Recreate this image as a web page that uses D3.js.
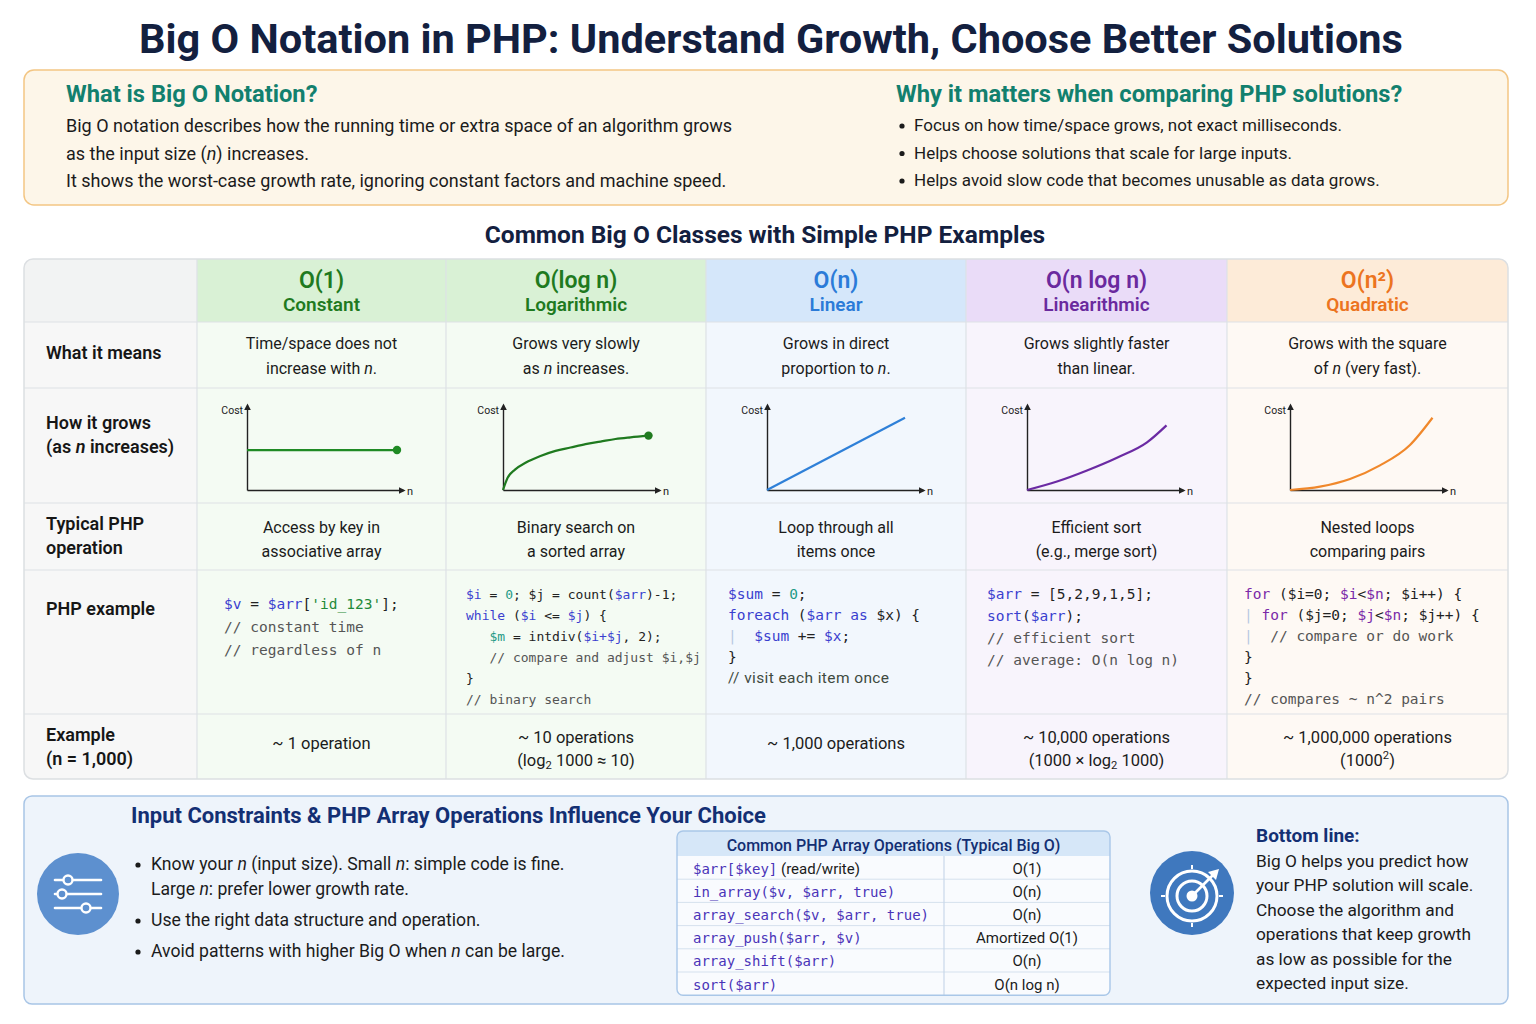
<!DOCTYPE html>
<html>
<head>
<meta charset="utf-8">
<script src="https://cdn.jsdelivr.net/npm/d3@7"></script>
<style>
  body { margin: 0; background: #fff; }
  svg { display: block; }
  text { font-family: Roboto, "Noto Sans", sans-serif; }
  .mono { font-family: "DejaVu Sans Mono", "Liberation Mono", monospace; white-space: pre; }
  .sans { font-family: Roboto, "Noto Sans", sans-serif; }
</style>
</head>
<body>
<div id="chart"></div>
<script>
// ---- data ----
var titleText = "Big O Notation in PHP: Understand Growth, Choose Better Solutions";
var whatHead = "What is Big O Notation?";
var whatLines = [
  "Big O notation describes how the running time or extra space of an algorithm grows",
  "as the input size ({i:n}) increases.",
  "It shows the worst-case growth rate, ignoring constant factors and machine speed."
];
var whyHead = "Why it matters when comparing PHP solutions?";
var whyLines = [
  "Focus on how time/space grows, not exact milliseconds.",
  "Helps choose solutions that scale for large inputs.",
  "Helps avoid slow code that becomes unusable as data grows."
];
var tableTitle = "Common Big O Classes with Simple PHP Examples";

var classNames = ["O(1)", "O(log n)", "O(n)", "O(n log n)", "O(n²)"];
var classLabels = ["Constant", "Logarithmic", "Linear", "Linearithmic", "Quadratic"];
var rowLabels = [
  ["What it means"],
  ["How it grows", "(as {i:n} increases)"],
  ["Typical PHP", "operation"],
  ["PHP example"],
  ["Example", "(n = 1,000)"]
];
var meanings = [
  ["Time/space does not", "increase with {i:n}."],
  ["Grows very slowly", "as {i:n} increases."],
  ["Grows in direct", "proportion to {i:n}."],
  ["Grows slightly faster", "than linear."],
  ["Grows with the square", "of {i:n} (very fast)."]
];
var operations = [
  ["Access by key in", "associative array"],
  ["Binary search on", "a sorted array"],
  ["Loop through all", "items once"],
  ["Efficient sort", "(e.g., merge sort)"],
  ["Nested loops", "comparing pairs"]
];
var examples = [
  ["~ 1 operation"],
  ["~ 10 operations", "(log{sub:2} 1000 ≈ 10)"],
  ["~ 1,000 operations"],
  ["~ 10,000 operations", "(1000 × log{sub:2} 1000)"],
  ["~ 1,000,000 operations", "(1000{sup:2})"]
];

// growth curves (n and cost on a 0..100 scale)
var growthN = [
  [0, 100],
  [0, 3, 8, 15, 25, 35, 45, 55, 65, 75, 85, 97],
  [0, 92],
  [0, 20, 40, 60, 80, 93],
  [0, 20, 40, 60, 80, 95]
];
var growthCost = [
  [47, 47],
  [0, 14, 24, 32, 40, 46, 50, 54, 57, 60, 62, 64],
  [0, 85],
  [0, 10, 23, 38, 56, 76],
  [0, 4, 13, 29, 53, 85]
];
var growthDot = [true, true, false, false, false];

// code snippets: [text, token type]
var codeLines = [
  [
    [["$v", "v"], [" = ", "p"], ["$arr", "v"], ["[", "p"], ["'id_123'", "s"], ["];", "p"]],
    [["// constant time", "c"]],
    [["// regardless of n", "c"]]
  ],
  [
    [["$i", "v"], [" = ", "p"], ["0", "n"], ["; $j = count(", "p"], ["$arr", "v"], [")-1;", "p"]],
    [["while", "k"], [" (", "p"], ["$i", "v"], [" <= ", "p"], ["$j", "v"], [") {", "p"]],
    [["   ", "p"], ["$m", "n"], [" = intdiv(", "p"], ["$i+$j", "v"], [", 2);", "p"]],
    [["   // compare and adjust $i,$j", "c"]],
    [["}", "p"]],
    [["// binary search", "c"]]
  ],
  [
    [["$sum", "v"], [" = ", "p"], ["0", "n"], [";", "p"]],
    [["foreach", "k"], [" (", "p"], ["$arr", "v"], [" as ", "k"], ["$x", "p"], [") {", "p"]],
    [["|", "g"], ["  ", "p"], ["$sum", "v"], [" += ", "p"], ["$x", "v"], [";", "p"]],
    [["}", "p"]],
    [["// visit each item once", "cs"]]
  ],
  [
    [["$arr", "v"], [" = [5,2,9,1,5];", "p"]],
    [["sort", "k"], ["(", "p"], ["$arr", "v"], [");", "p"]],
    [["// efficient sort", "c"]],
    [["// average: O(n log n)", "c"]]
  ],
  [
    [["for", "q"], [" ($i=0; ", "p"], ["$i", "q"], ["<", "p"], ["$n", "q"], ["; $i++) {", "p"]],
    [["|", "g"], [" ", "p"], ["for", "q"], [" ($j=0; ", "p"], ["$j", "q"], ["<", "p"], ["$n", "q"], ["; $j++) {", "p"]],
    [["|", "g"], ["  // compare or do work", "c"]],
    [["}", "p"]],
    [["}", "p"]],
    [["// compares ~ n^2 pairs", "c"]]
  ]
];

var bottomHead = "Input Constraints & PHP Array Operations Influence Your Choice";
var bullets = [
  ["Know your {i:n} (input size). Small {i:n}: simple code is fine.", "Large {i:n}: prefer lower growth rate."],
  ["Use the right data structure and operation."],
  ["Avoid patterns with higher Big O when {i:n} can be large."]
];
var opsTitle = "Common PHP Array Operations (Typical Big O)";
var opsCode = ["$arr[$key]", "in_array($v, $arr, true)", "array_search($v, $arr, true)", "array_push($arr, $v)", "array_shift($arr)", "sort($arr)"];
var opsNote = [" (read/write)", "", "", "", "", ""];
var opsBigO = ["O(1)", "O(n)", "O(n)", "Amortized O(1)", "O(n)", "O(n log n)"];
var bottomLineHead = "Bottom line:";
var bottomLineText = [
  "Big O helps you predict how",
  "your PHP solution will scale.",
  "Choose the algorithm and",
  "operations that keep growth",
  "as low as possible for the",
  "expected input size."
];

// ---- styling ----
var headColors = ["#1f7a1f", "#1f7a1f", "#2b7bd8", "#6a2a9e", "#ec7420"];
var lineColors = ["#1f8a24", "#1f7a1f", "#2f80d8", "#6b2aa3", "#f0882b"];
var headFills = ["#f2f3f3", "#d9f1d5", "#d9f1d5", "#d5e7fa", "#eadcf8", "#fdebd8"];
var bodyFills = ["#f7f7f7", "#f4fbf3", "#f4fbf3", "#f2f7fd", "#f8f4fc", "#fef9f4"];
var tokenColors = { v: "#3a3fcf", s: "#1f8a3a", k: "#3a3fcf", n: "#1f9a86", c: "#555", cs: "#3f4a3f", p: "#222", g: "#b9c9e2", q: "#7a2aa8" };

var colEdges = [24, 197, 446, 706, 966, 1227, 1508];
var rowEdges = [259, 322, 388, 503, 570, 714, 779];
var chartX = [247, 503, 767, 1027, 1290];
var codeX = [224, 466, 728, 987, 1244];
var codeSize = [14.5, 13, 14.5, 14.5, 14.5];
var codeLH = [23, 21, 21, 22, 21];
var codeY = [604, 594, 594, 594, 594];

var W = 1536, H = 1024;
var svg = d3.select("#chart").append("svg").attr("width", W).attr("height", H);
var defs = svg.append("defs");
defs.append("marker")
  .attr("id", "arrow")
  .attr("viewBox", "0 0 10 10")
  .attr("refX", 7).attr("refY", 5)
  .attr("markerWidth", 5).attr("markerHeight", 5)
  .attr("orient", "auto")
  .append("path").attr("d", "M0,0L10,5L0,10z").attr("fill", "#222");

function rich(text, str) {
  var shift = 0;
  str.split(/(\{(?:i|sub|sup):[^}]*\})/).forEach(function(p) {
    if (!p) return;
    var m = p.match(/^\{(i|sub|sup):([^}]*)\}$/);
    var t = text.append("tspan");
    var dy = 0;
    if (shift) { dy = -shift; shift = 0; }
    if (!m) {
      t.text(p);
    } else if (m[1] === "i") {
      t.attr("font-style", "italic").text(m[2]);
    } else {
      var s = m[1] === "sub" ? 5 : -5;
      dy += s;
      shift = s;
      t.attr("font-size", "0.68em").text(m[2]);
    }
    if (dy) t.attr("dy", dy);
  });
}

function lines(g, x, y, arr, o) {
  arr.forEach(function(s, i) {
    var t = g.append("text")
      .attr("x", x)
      .attr("y", y + i * (o.lh || 0))
      .attr("font-size", o.size)
      .attr("font-weight", o.weight || 400)
      .attr("fill", o.fill || "#1b1b1b")
      .attr("text-anchor", o.anchor || "start")
      .attr("dominant-baseline", "central");
    rich(t, s);
  });
}

function bullet(g, x, y) {
  g.append("circle").attr("cx", x).attr("cy", y + 1).attr("r", 2.6).attr("fill", "#1b1b1b");
}

// ---- title ----
svg.append("text")
  .attr("x", 771).attr("y", 38)
  .attr("text-anchor", "middle").attr("dominant-baseline", "central")
  .attr("font-size", 41.5).attr("font-weight", 700).attr("fill", "#13203f")
  .text(titleText);

// ---- top box ----
svg.append("rect")
  .attr("x", 24).attr("y", 70).attr("width", 1484).attr("height", 135).attr("rx", 10)
  .attr("fill", "#fdf6e9").attr("stroke", "#f3c684").attr("stroke-width", 1.5);
lines(svg, 66, 94, [whatHead], { size: 23.7, weight: 700, fill: "#12806e" });
lines(svg, 66, 125, whatLines, { size: 18, lh: 27.5 });
lines(svg, 896, 94, [whyHead], { size: 23.7, weight: 700, fill: "#12806e" });
whyLines.forEach(function(s, i) {
  bullet(svg, 902, 125 + i * 27.5);
  lines(svg, 914, 125 + i * 27.5, [s], { size: 17 });
});

// ---- table ----
svg.append("text")
  .attr("x", 765).attr("y", 234)
  .attr("text-anchor", "middle").attr("dominant-baseline", "central")
  .attr("font-size", 24.5).attr("font-weight", 700).attr("fill", "#13203f")
  .text(tableTitle);

defs.append("clipPath").attr("id", "tclip").append("rect")
  .attr("x", 24).attr("y", 259).attr("width", 1484).attr("height", 520).attr("rx", 9);
var table = svg.append("g").attr("clip-path", "url(#tclip)");
d3.range(6).forEach(function(c) {
  d3.range(6).forEach(function(r) {
    table.append("rect")
      .attr("x", colEdges[c]).attr("y", rowEdges[r])
      .attr("width", colEdges[c + 1] - colEdges[c])
      .attr("height", rowEdges[r + 1] - rowEdges[r])
      .attr("fill", r === 0 ? headFills[c] : bodyFills[c]);
  });
});
rowEdges.slice(1, 6).forEach(function(y) {
  table.append("line").attr("x1", 24).attr("x2", 1508).attr("y1", y).attr("y2", y)
    .attr("stroke", "#dde2e6").attr("stroke-width", 1.2);
});
colEdges.slice(1, 6).forEach(function(x) {
  table.append("line").attr("x1", x).attr("x2", x).attr("y1", 259).attr("y2", 779)
    .attr("stroke", "#dde2e6").attr("stroke-width", 1.2);
});
svg.append("rect")
  .attr("x", 24).attr("y", 259).attr("width", 1484).attr("height", 520).attr("rx", 9)
  .attr("fill", "none").attr("stroke", "#dcdfe2").attr("stroke-width", 1.5);

// row labels
var labelY = [352, 422, 523, 608, 734];
rowLabels.forEach(function(l, r) {
  lines(svg, 46, labelY[r], l, { size: 18, weight: 600, lh: 24, fill: "#161616" });
});

classNames.forEach(function(name, c) {
  var cx = (colEdges[c + 1] + colEdges[c + 2]) / 2;
  lines(svg, cx, 280, [name], { size: 23, weight: 600, fill: headColors[c], anchor: "middle" });
  lines(svg, cx, 304, [classLabels[c]], { size: 19, weight: 600, fill: headColors[c], anchor: "middle" });
  lines(svg, cx, 343, meanings[c], { size: 16, lh: 25, anchor: "middle" });
  lines(svg, cx, 527, operations[c], { size: 16, lh: 24, anchor: "middle" });
  var ex = examples[c];
  lines(svg, cx, ex.length > 1 ? 737 : 743, ex, { size: 16.5, lh: 23, anchor: "middle" });

  // code
  codeLines[c].forEach(function(tokens, i) {
    var t = svg.append("text")
      .attr("class", "mono")
      .attr("x", codeX[c])
      .attr("y", codeY[c] + i * codeLH[c])
      .attr("font-size", codeSize[c])
      .attr("dominant-baseline", "central");
    tokens.forEach(function(tk) {
      var ts = t.append("tspan").attr("fill", tokenColors[tk[1]]).text(tk[0]);
      if (tk[1] === "cs") ts.attr("class", "sans").attr("font-size", 15.5).attr("letter-spacing", 0.4);
    });
  });

  // mini growth chart
  var ax = chartX[c];
  var x = d3.scaleLinear().domain([0, 100]).range([ax, ax + 150]);
  var y = d3.scaleLinear().domain([0, 100]).range([490, 405]);
  var xa = d3.scaleLinear().domain([0, 104]).range([ax, ax + 156]);
  var g = svg.append("g");
  g.append("g").attr("transform", "translate(0,490)")
    .call(d3.axisBottom(xa).tickValues([]).tickSizeOuter(0))
    .select(".domain").attr("stroke", "#222").attr("stroke-width", 1.4).attr("marker-end", "url(#arrow)");
  g.append("g").attr("transform", "translate(" + ax + ",0)")
    .call(d3.axisLeft(y).tickValues([]).tickSizeOuter(0))
    .select(".domain").attr("stroke", "#222").attr("stroke-width", 1.4).attr("marker-end", "url(#arrow)");
  g.append("text").attr("x", ax - 4).attr("y", 410).attr("text-anchor", "end")
    .attr("dominant-baseline", "central").attr("font-size", 10.5).attr("fill", "#222").text("Cost");
  g.append("text").attr("x", ax + 160).attr("y", 491)
    .attr("dominant-baseline", "central").attr("font-size", 11).attr("fill", "#222").text("n");
  var pts = growthN[c].map(function(n, i) { return [n, growthCost[c][i]]; });
  g.append("path").datum(pts)
    .attr("d", d3.line().x(function(d) { return x(d[0]); }).y(function(d) { return y(d[1]); }).curve(d3.curveMonotoneX))
    .attr("fill", "none").attr("stroke", lineColors[c]).attr("stroke-width", 2.2);
  if (growthDot[c]) {
    var last = pts[pts.length - 1];
    g.append("circle").attr("cx", x(last[0])).attr("cy", y(last[1])).attr("r", 4.2).attr("fill", lineColors[c]);
  }
});

// ---- bottom panel ----
svg.append("rect")
  .attr("x", 24).attr("y", 796).attr("width", 1484).attr("height", 208).attr("rx", 8)
  .attr("fill", "#eef4fb").attr("stroke", "#a8c5e6").attr("stroke-width", 1.5);
lines(svg, 131, 815, [bottomHead], { size: 22, weight: 700, fill: "#132f73" });

// sliders icon
var icon = svg.append("g");
icon.append("circle").attr("cx", 78).attr("cy", 894).attr("r", 41).attr("fill", "#5d90cf");
[[880, 68], [894, 62], [908, 86]].forEach(function(s) {
  icon.append("line").attr("x1", 55).attr("x2", 101).attr("y1", s[0]).attr("y2", s[0])
    .attr("stroke", "#fff").attr("stroke-width", 2.6).attr("stroke-linecap", "round");
  icon.append("circle").attr("cx", s[1]).attr("cy", s[0]).attr("r", 4.5)
    .attr("fill", "#5d90cf").attr("stroke", "#fff").attr("stroke-width", 2.4);
});

var by = [864, 920, 951];
bullets.forEach(function(b, i) {
  bullet(svg, 138, by[i]);
  lines(svg, 151, by[i], b, { size: 17.6, lh: 25 });
});

// array ops table
var tx0 = 677, tx1 = 1110, tdiv = 944, ty0 = 831, thead = 25, trow = 23.2;
defs.append("clipPath").attr("id", "oclip").append("rect")
  .attr("x", tx0).attr("y", ty0).attr("width", tx1 - tx0).attr("height", thead + trow * 6).attr("rx", 6);
var ot = svg.append("g").attr("clip-path", "url(#oclip)");
ot.append("rect").attr("x", tx0).attr("y", ty0).attr("width", tx1 - tx0).attr("height", thead + trow * 6).attr("fill", "#f9fbfe");
ot.append("rect").attr("x", tx0).attr("y", ty0).attr("width", tx1 - tx0).attr("height", thead).attr("fill", "#d6e7f8");
opsCode.forEach(function(code, i) {
  var yTop = ty0 + thead + i * trow;
  if (i > 0) {
    ot.append("line").attr("x1", tx0).attr("x2", tx1).attr("y1", yTop).attr("y2", yTop)
      .attr("stroke", "#d5e1ee").attr("stroke-width", 1);
  }
  var t = svg.append("text").attr("x", 693).attr("y", yTop + trow / 2 + 1)
    .attr("dominant-baseline", "central").attr("font-size", 14);
  t.append("tspan").attr("class", "mono").attr("fill", "#4a34b8").text(code);
  if (opsNote[i]) t.append("tspan").attr("fill", "#1b1b1b").attr("font-size", 15).text(opsNote[i]);
  lines(svg, (tdiv + tx1) / 2, yTop + trow / 2 + 1, [opsBigO[i]], { size: 15, anchor: "middle" });
});
ot.append("line").attr("x1", tdiv).attr("x2", tdiv).attr("y1", ty0 + thead).attr("y2", ty0 + thead + trow * 6)
  .attr("stroke", "#c8d8ea").attr("stroke-width", 1.2);
svg.append("rect").attr("x", tx0).attr("y", ty0).attr("width", tx1 - tx0).attr("height", thead + trow * 6).attr("rx", 6)
  .attr("fill", "none").attr("stroke", "#a9c7e8").attr("stroke-width", 1.4);
lines(svg, (tx0 + tx1) / 2, ty0 + thead / 2 + 1, [opsTitle], { size: 16, weight: 500, fill: "#132f73", anchor: "middle" });

// target icon
var tg = svg.append("g");
tg.append("circle").attr("cx", 1192).attr("cy", 893).attr("r", 42).attr("fill", "#3f78be");
tg.append("circle").attr("cx", 1192).attr("cy", 896).attr("r", 25).attr("fill", "none").attr("stroke", "#fff").attr("stroke-width", 3);
tg.append("circle").attr("cx", 1192).attr("cy", 896).attr("r", 15).attr("fill", "none").attr("stroke", "#fff").attr("stroke-width", 3);
tg.append("circle").attr("cx", 1192).attr("cy", 896).attr("r", 5.5).attr("fill", "#fff");
tg.append("line").attr("x1", 1193).attr("y1", 895).attr("x2", 1214).attr("y2", 874)
  .attr("stroke", "#fff").attr("stroke-width", 2.6);
tg.append("path").attr("d", "M1219,869L1208,872L1216,880Z").attr("fill", "#fff");
[[1192, 869, 1192, 865], [1219, 896, 1223, 896], [1192, 923, 1192, 927], [1165, 896, 1161, 896]].forEach(function(l) {
  tg.append("line").attr("x1", l[0]).attr("y1", l[1]).attr("x2", l[2]).attr("y2", l[3])
    .attr("stroke", "#fff").attr("stroke-width", 2);
});

lines(svg, 1256, 835, [bottomLineHead], { size: 19, weight: 700, fill: "#132f73" });
lines(svg, 1256, 861, bottomLineText, { size: 17.3, lh: 24.4 });
</script>
</body>
</html>
